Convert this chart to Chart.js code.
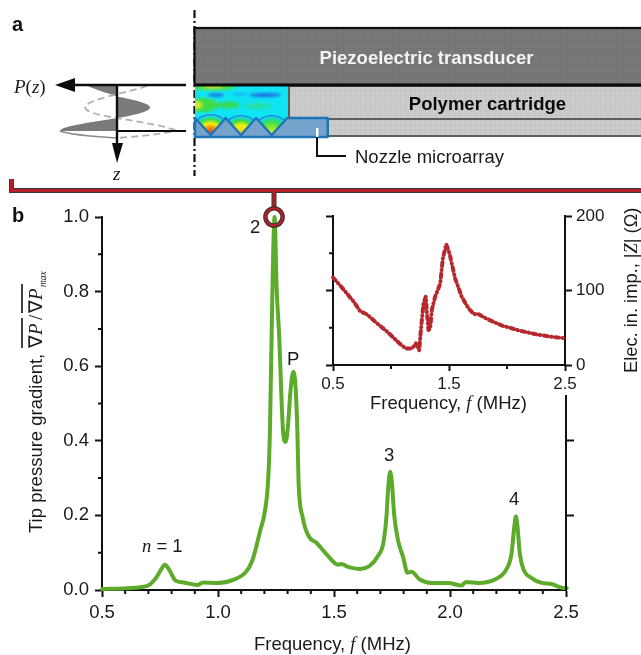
<!DOCTYPE html>
<html>
<head>
<meta charset="utf-8">
<style>
body { margin: 0; background: #fff; }
#wrap { position: relative; width: 641px; height: 655px; overflow: hidden; }
canvas, svg { position: absolute; left: 0; top: 0; }
svg text { font-family: "Liberation Sans", Arial, sans-serif; fill: #1a1a1a; }
.serif { font-family: "Liberation Serif", serif; }
.it { font-family: "Liberation Serif", serif; font-style: italic; }
</style>
<script src="https://cdn.jsdelivr.net/npm/chart.js@4"></script>
</head>
<body>
<div id="wrap">
<canvas id="mainChart" width="641" height="655"></canvas>
<canvas id="insetChart" width="641" height="655"></canvas>
<svg width="641" height="655" viewBox="0 0 641 655" xmlns="http://www.w3.org/2000/svg">
  <defs>
    <pattern id="meshDark" width="7" height="6" patternUnits="userSpaceOnUse">
      <rect width="7" height="6" fill="#787878"/>
      <path d="M0 0H7M0 0V6" stroke="#6c6c6c" stroke-width="0.7"/>
    </pattern>
    <pattern id="meshLight" width="5" height="5" patternUnits="userSpaceOnUse">
      <rect width="5" height="5" fill="#cbcbcb"/>
      <path d="M0 0H5M0 0V5" stroke="#bcbcbc" stroke-width="0.6"/>
    </pattern>
    <filter id="soft" x="-30%" y="-60%" width="160%" height="220%"><feGaussianBlur stdDeviation="1.6"/></filter>
    <radialGradient id="dome1">
      <stop offset="0" stop-color="#e8200c"/><stop offset="0.35" stop-color="#f58a0a"/>
      <stop offset="0.55" stop-color="#f5ee10"/><stop offset="0.75" stop-color="#3fdc45"/>
      <stop offset="0.9" stop-color="#12d8e8"/><stop offset="1" stop-color="#2a62d8"/>
    </radialGradient>
    <radialGradient id="dome2">
      <stop offset="0" stop-color="#f5c50a"/><stop offset="0.5" stop-color="#f2f010"/>
      <stop offset="0.72" stop-color="#3fdc45"/><stop offset="0.9" stop-color="#12d8e8"/><stop offset="1" stop-color="#2a62d8"/>
    </radialGradient>
    <radialGradient id="dome3">
      <stop offset="0" stop-color="#e8ee10"/><stop offset="0.4" stop-color="#8ee630"/>
      <stop offset="0.7" stop-color="#30dc60"/><stop offset="0.9" stop-color="#12d8e8"/><stop offset="1" stop-color="#2a62d8"/>
    </radialGradient>
    <clipPath id="simClip"><rect x="195" y="86" width="94" height="50"/></clipPath>
  </defs>

  <!-- panel a -->
  <text x="12" y="31" font-size="20" font-weight="bold" style="fill:#111">a</text>
  <path d="M194.5 10V176" stroke="#111" stroke-width="2.2" stroke-dasharray="8 3 2 3" fill="none"/>

  <rect x="194.5" y="28" width="460" height="56.5" fill="url(#meshDark)" stroke="#0c0c0c" stroke-width="2.2"/>
  <rect x="289" y="86" width="360" height="33" fill="url(#meshLight)" stroke="#5e5e5e" stroke-width="2"/>
  <rect x="328" y="119" width="320" height="17" fill="url(#meshLight)" stroke="#5e5e5e" stroke-width="2"/>
  <text x="426.5" y="64" font-size="18.5" font-weight="bold" text-anchor="middle" style="fill:#f4f4f4">Piezoelectric transducer</text>
  <text x="487.5" y="110" font-size="18.5" font-weight="bold" text-anchor="middle" style="fill:#0a0a0a">Polymer cartridge</text>

  <g clip-path="url(#simClip)">
    <rect x="195" y="86" width="94" height="50" fill="#0fe4f4"/>
    <g filter="url(#soft)">
      <ellipse cx="212" cy="87" rx="24" ry="3.5" fill="#4fe04a"/>
      <ellipse cx="213" cy="86" rx="9" ry="1.6" fill="#e8e81a"/>
      <ellipse cx="216" cy="95" rx="8" ry="1.6" fill="#2058e0"/>
      <ellipse cx="265" cy="95" rx="16" ry="1.8" fill="#2058e0"/>
      <ellipse cx="240" cy="94" rx="8" ry="1.2" fill="#20a0ee"/>
      <ellipse cx="203" cy="105" rx="15" ry="7" fill="#3fdc45"/>
      <ellipse cx="197" cy="105" rx="5" ry="3.5" fill="#dfe820"/>
      <ellipse cx="228" cy="105" rx="12" ry="3.5" fill="#37d955"/>
      <ellipse cx="258" cy="106" rx="14" ry="3" fill="#28e0a0"/>
    </g>
    <circle cx="210.7" cy="135" r="21" fill="url(#dome1)"/>
    <circle cx="241" cy="135" r="20" fill="url(#dome2)"/>
    <circle cx="271.7" cy="135" r="20" fill="url(#dome3)"/>
  </g>
  <path d="M195 118L210.7 135L225.7 118L241 135L256 118L271.7 135L287.3 118H327.7V137H195Z" fill="#76a3cc" stroke="#1f74b8" stroke-width="2.4" stroke-linejoin="round"/>
  <path d="M289 86V118" stroke="#5e5e5e" stroke-width="2"/>
  <path d="M194.5 85.5H641" stroke="#0c0c0c" stroke-width="2.2"/>
  <rect x="316" y="128" width="2.4" height="9" fill="#fff"/>
  <path d="M317 137V156H346" fill="none" stroke="#111" stroke-width="2"/>
  <text x="355" y="163" font-size="18.5">Nozzle microarray</text>

  <!-- pressure mode shape -->
  <path d="M88 86H117V96.5C108 93 96 90 88 86Z" fill="#7a7a7a"/>
  <path d="M117 96.5C130 99 150 103 150 107.5C150 112 130 116 117 118Z" fill="#7a7a7a"/>
  <path d="M117 118C95 122 60 126 60 131H117Z" fill="#7a7a7a"/>
  <path d="M60 131C70 135 100 137 117 138" fill="none" stroke="#8a8a8a" stroke-width="1.4"/>
  <path d="M147 86C130 92 85 100 85 107C85 113 105 116 117 118C135 121 165 126 175 130C170 134 130 137 117 138" fill="none" stroke="#b0b0b0" stroke-width="1.8" stroke-dasharray="7 4"/>
  <path d="M186 85H74" stroke="#0c0c0c" stroke-width="2.4"/>
  <path d="M55 85L75 78V92Z" fill="#0c0c0c"/>
  <path d="M186 131H117" stroke="#0c0c0c" stroke-width="2.2"/>
  <path d="M117 85V145" stroke="#0c0c0c" stroke-width="2.4"/>
  <path d="M117 163L112 143H123Z" fill="#0c0c0c"/>
  <text x="14" y="93" font-size="19" class="it">P<tspan class="serif" style="font-style:normal">(</tspan>z<tspan class="serif" style="font-style:normal">)</tspan></text>
  <text x="113" y="180" font-size="19" class="it">z</text>

  <!-- bracket joining the panels -->
  <path d="M11.5 179V190.5H641M274 190.5V208" fill="none" stroke="#3a3a3a" stroke-width="5"/>
  <path d="M11.5 179V190.5H641M274 190.5V208" fill="none" stroke="#b3202a" stroke-width="3"/>
  <circle cx="274" cy="217" r="8.6" fill="none" stroke="#2a2a2a" stroke-width="4.4"/>
  <circle cx="274" cy="217" r="8.6" fill="none" stroke="#b3202a" stroke-width="2.6"/>

  <!-- panel b -->
  <text x="12" y="222" font-size="20" font-weight="bold" style="fill:#111">b</text>
  <text x="142" y="552" font-size="18.5"><tspan class="it">n</tspan> = 1</text>
  <text x="250" y="233" font-size="18.5">2</text>
  <text x="287" y="365" font-size="18.5">P</text>
  <text x="384" y="461" font-size="18.5">3</text>
  <text x="509" y="505" font-size="18.5">4</text>

  <text x="254" y="650" font-size="18.5">Frequency, <tspan class="it">f</tspan> (MHz)</text>
  <text x="370" y="409" font-size="18.5">Frequency, <tspan class="it">f</tspan> (MHz)</text>

  <g transform="translate(42,533) rotate(-90)">
    <text x="0" y="0" font-size="18.5">Tip pressure gradient,</text>
    <text x="185" y="0" font-size="19" class="serif">∇<tspan class="it">P</tspan></text>
    <text x="213" y="0" font-size="19" class="serif">/</text>
    <text x="220" y="0" font-size="19" class="serif">∇<tspan class="it">P</tspan></text>
    <text x="246" y="4" font-size="9.5" class="it">max</text>
    <path d="M185 -20H215M220 -20H249" stroke="#111" stroke-width="1.6"/>
  </g>
  <g transform="translate(637,373) rotate(-90)">
    <text x="0" y="0" font-size="18.3">Elec. in. imp., |<tspan class="it">Z</tspan>| (Ω)</text>
  </g>
</svg>
</div>

<script>
// Main curve: tip pressure gradient vs frequency
const mainFreq = [0.5, 0.608, 0.695, 0.73, 0.752, 0.771, 0.788, 0.817, 0.853, 0.911, 0.935, 0.997, 1.069, 1.12, 1.148, 1.184, 1.2, 1.216, 1.224, 1.234, 1.244, 1.253, 1.263, 1.28, 1.291, 1.30, 1.313, 1.325, 1.335, 1.342, 1.347, 1.365, 1.393, 1.422, 1.473, 1.517, 1.532, 1.56, 1.611, 1.654, 1.69, 1.712, 1.726, 1.733, 1.742, 1.75, 1.759, 1.776, 1.798, 1.817, 1.834, 1.87, 1.92, 1.992, 2.05, 2.068, 2.122, 2.194, 2.244, 2.265, 2.277, 2.284, 2.291, 2.301, 2.316, 2.352, 2.395, 2.438, 2.481, 2.503];
const mainGrad = [0.003, 0.005, 0.011, 0.03, 0.052, 0.068, 0.056, 0.025, 0.02, 0.0135, 0.02, 0.019, 0.028, 0.048, 0.079, 0.164, 0.204, 0.294, 0.429, 0.787, 1.0, 0.805, 0.69, 0.429, 0.397, 0.429, 0.537, 0.585, 0.537, 0.429, 0.294, 0.195, 0.142, 0.128, 0.092, 0.068, 0.07, 0.062, 0.0565, 0.065, 0.092, 0.124, 0.196, 0.267, 0.317, 0.285, 0.204, 0.133, 0.088, 0.046, 0.049, 0.028, 0.019, 0.019, 0.012, 0.0215, 0.019, 0.028, 0.0565, 0.097, 0.169, 0.197, 0.169, 0.097, 0.0565, 0.032, 0.019, 0.016, 0.006, 0.005];
const mainXTicks = [0.5, 1.0, 1.5, 2.0, 2.5];
const mainXMinor = [0.6, 0.7, 0.8, 0.9, 1.1, 1.2, 1.3, 1.4, 1.6, 1.7, 1.8, 1.9, 2.1, 2.2, 2.3, 2.4];
const mainYTicks = [0, 0.2, 0.4, 0.6, 0.8, 1.0];
const mainYMinor = [0.1, 0.3, 0.5, 0.7, 0.9];
const mainRightTicks = [0.2, 0.4];
const mainRightSpineTop = 0.523;

// Inset curve: electrical input impedance vs frequency
const insetFreq = [0.5, 0.577, 0.678, 0.735, 0.793, 0.879, 0.965, 1.08, 1.131, 1.18, 1.215, 1.243, 1.26, 1.28, 1.3, 1.31, 1.323, 1.338, 1.352, 1.38, 1.424, 1.447, 1.476, 1.504, 1.553, 1.61, 1.668, 1.717, 1.745, 1.826, 1.955, 2.113, 2.256, 2.4, 2.5];
const insetImp = [117.4, 104, 85, 72, 68, 56, 45, 28, 22, 22, 29, 20, 51, 83, 91.5, 69, 47, 49, 74, 91.5, 109, 143, 162, 150, 116, 91.5, 76, 68, 69, 62, 53, 46, 41, 37.5, 36];
const insetXTicks = [0.5, 1.5, 2.5];
const insetXMinor = [1.0, 2.0];
const insetYTicks = [0, 100, 200];
const insetYMinor = [50, 150];

const labelFont = { family: '"Liberation Sans", Arial, sans-serif' };
const inkColor = '#111';

function setTicks(values) { // use our own tick positions
    return scale => { scale.ticks = values.map(v => ({ value: v })); };
}

function axisStyle(tickLength) {
    return {
        drawOnChartArea: false,
        drawTicks: true,
        tickLength: tickLength,
        tickWidth: 2,
        tickColor: inkColor
    };
}

function minorTicks(id, xScaleId, xVals, yScaleId, yVals, len) { // short ticks, placed by the scales
    return {
        id: id,
        afterDraw(chart) {
            const ctx = chart.ctx;
            const xs = chart.scales[xScaleId];
            const ys = chart.scales[yScaleId];
            ctx.save();
            ctx.strokeStyle = inkColor;
            ctx.lineWidth = 2;
            ctx.beginPath();
            xVals.forEach(v => {
                const px = xs.getPixelForValue(v);
                ctx.moveTo(px, xs.top);
                ctx.lineTo(px, xs.top + len);
            });
            yVals.forEach(v => {
                const py = ys.getPixelForValue(v);
                ctx.moveTo(ys.right, py);
                ctx.lineTo(ys.right - len, py);
            });
            ctx.stroke();
            ctx.restore();
        }
    };
}

const rightSpine = { // main right axis stops below the inset's tick labels
    id: 'rightSpine',
    afterDraw(chart) {
        const s = chart.scales.yRight;
        const ctx = chart.ctx;
        ctx.save();
        ctx.strokeStyle = inkColor;
        ctx.lineWidth = 2;
        ctx.beginPath();
        ctx.moveTo(s.left, s.getPixelForValue(0));
        ctx.lineTo(s.left, s.getPixelForValue(mainRightSpineTop));
        ctx.stroke();
        ctx.restore();
    }
};

new Chart(document.getElementById('mainChart'), {
    type: 'line',
    data: {
        datasets: [{
            data: mainFreq.map((f, i) => ({ x: f, y: mainGrad[i] })),
            borderColor: '#5dab2b',
            borderWidth: 4,
            pointRadius: 0,
            tension: 0,
            cubicInterpolationMode: 'monotone',
            borderJoinStyle: 'round',
            borderCapStyle: 'round',
            clip: false
        }]
    },
    options: {
        responsive: false,
        animation: false,
        layout: { padding: { top: 217, left: 0, right: 0, bottom: 0 } },
        plugins: { legend: { display: false }, tooltip: { enabled: false } },
        scales: {
            x: {
                type: 'linear', min: 0.5, max: 2.5,
                afterBuildTicks: setTicks(mainXTicks),
                afterFit: s => { s.height = 65; },
                grid: axisStyle(7),
                border: { color: inkColor, width: 2 },
                ticks: { autoSkip: false, maxRotation: 0, padding: 5, color: '#1a1a1a', font: { ...labelFont, size: 18.5 }, callback: v => v.toFixed(1) }
            },
            y: {
                type: 'linear', min: 0, max: 1,
                afterBuildTicks: setTicks(mainYTicks),
                afterFit: s => { s.width = 102; },
                grid: axisStyle(7),
                border: { color: inkColor, width: 2 },
                ticks: { autoSkip: false, padding: 6, color: '#1a1a1a', font: { ...labelFont, size: 18.5 }, callback: v => v.toFixed(1) }
            },
            yRight: {
                type: 'linear', position: 'right', min: 0, max: 1,
                afterBuildTicks: setTicks(mainRightTicks),
                afterFit: s => { s.width = 75; },
                grid: axisStyle(8),
                border: { display: false },
                ticks: { display: true, padding: 0, callback: () => '' }
            }
        }
    },
    plugins: [minorTicks('mainMinor', 'x', mainXMinor, 'y', mainYMinor, 4), rightSpine]
});

new Chart(document.getElementById('insetChart'), {
    type: 'line',
    data: {
        datasets: [{
            data: insetFreq.map((f, i) => ({ x: f, y: insetImp[i] })),
            borderColor: '#b5282e',
            borderWidth: 4,
            borderDash: [4, 3.5, 0.5, 3.5],
            borderCapStyle: 'round',
            borderJoinStyle: 'round',
            pointRadius: 0,
            tension: 0,
            clip: false
        }]
    },
    options: {
        responsive: false,
        animation: false,
        layout: { padding: { top: 216, left: 0, right: 0, bottom: 0 } },
        plugins: { legend: { display: false }, tooltip: { enabled: false } },
        scales: {
            x: {
                type: 'linear', min: 0.5, max: 2.5,
                afterBuildTicks: setTicks(insetXTicks),
                afterFit: s => { s.height = 290; },
                grid: axisStyle(6),
                border: { color: inkColor, width: 2 },
                ticks: { autoSkip: false, maxRotation: 0, padding: 3, color: '#1a1a1a', font: { ...labelFont, size: 17 }, callback: v => v.toFixed(1) }
            },
            y: {
                type: 'linear', min: 0, max: 200,
                afterBuildTicks: setTicks(insetYTicks),
                afterFit: s => { s.width = 333; },
                grid: axisStyle(7),
                border: { color: inkColor, width: 2 },
                ticks: { padding: 0, callback: () => '' }
            },
            yRight: {
                type: 'linear', position: 'right', min: 0, max: 200,
                afterBuildTicks: setTicks(insetYTicks),
                afterFit: s => { s.width = 76; },
                grid: axisStyle(7),
                border: { color: inkColor, width: 2 },
                ticks: { autoSkip: false, padding: 4, color: '#1a1a1a', font: { ...labelFont, size: 17 } }
            }
        }
    },
    plugins: [minorTicks('insetMinor', 'x', insetXMinor, 'y', insetYMinor, 4)]
});
</script>
</body>
</html>
